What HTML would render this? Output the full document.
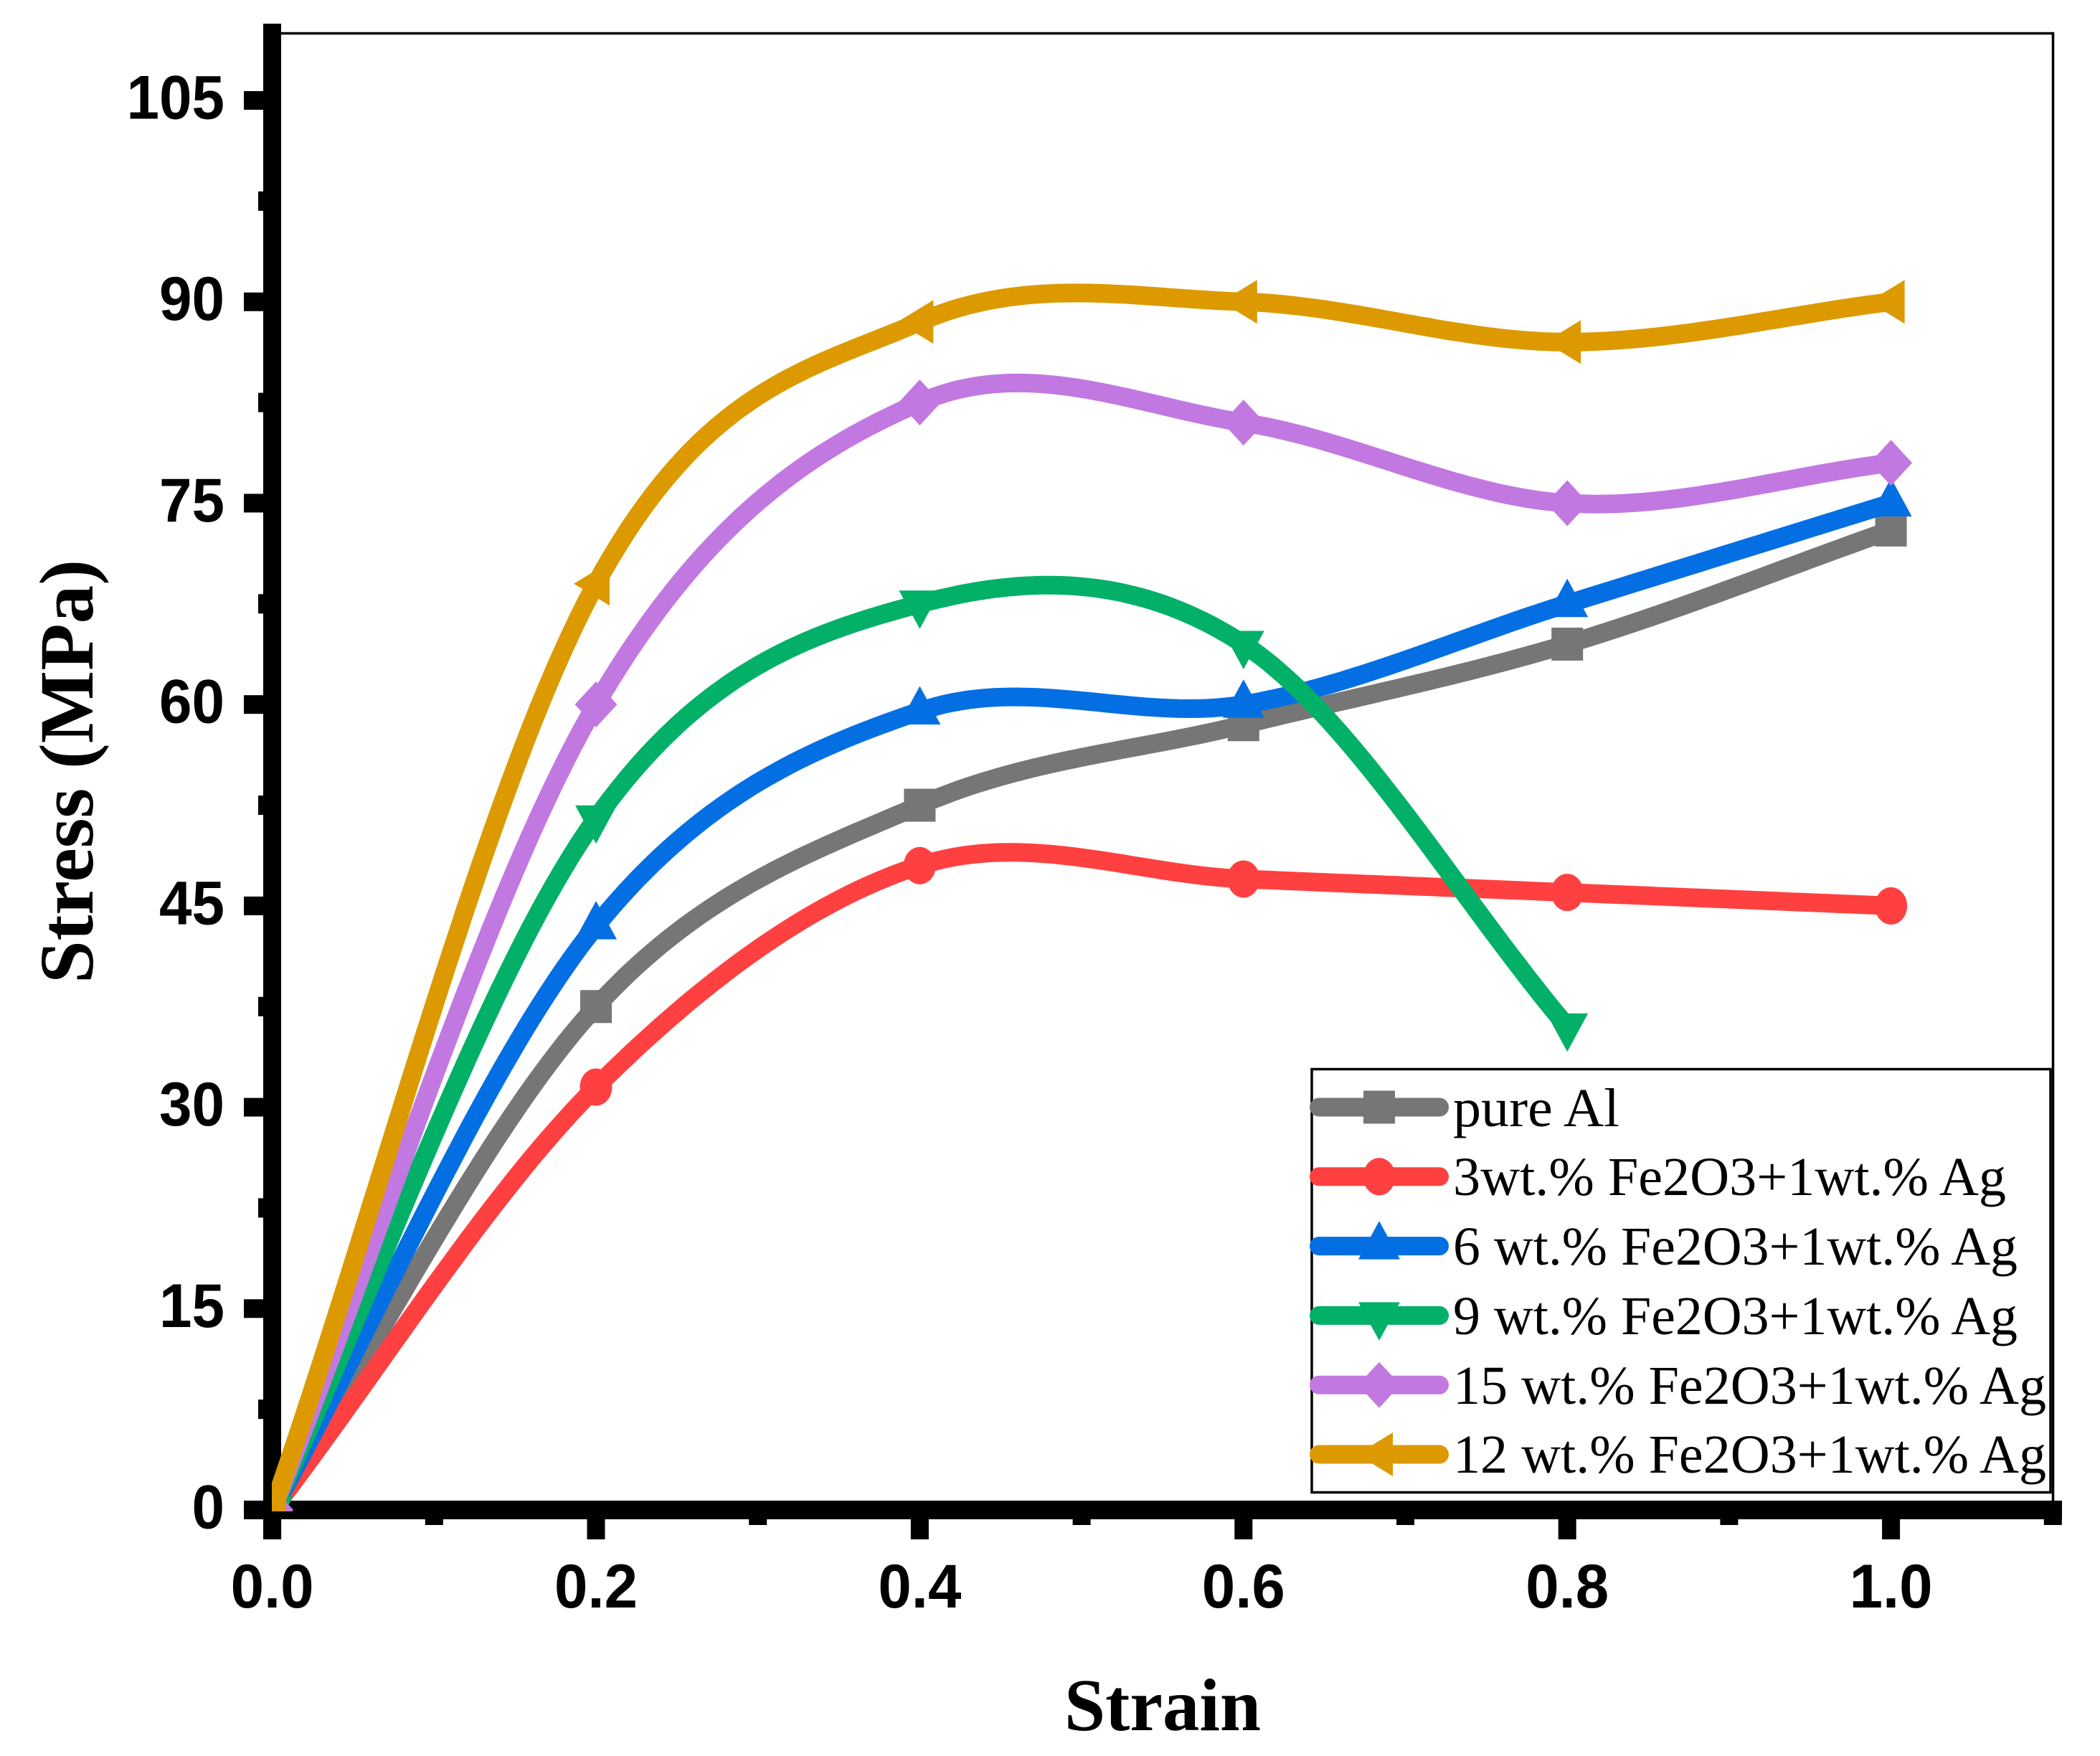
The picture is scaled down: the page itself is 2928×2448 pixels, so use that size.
<!DOCTYPE html>
<html lang="en">
<head>
<meta charset="utf-8">
<title>Stress vs Strain</title>
<style>
html,body{margin:0;padding:0;background:#fff;}
svg{display:block;}
</style>
</head>
<body>
<svg id="chart" xmlns="http://www.w3.org/2000/svg" width="2928" height="2448" viewBox="0 0 2928 2448">
  <defs>
    <clipPath id="plot-clip"><rect x="379" y="0" width="2500" height="2107"></rect></clipPath>
  </defs>
  <rect x="0" y="0" width="2928" height="2448" fill="#fff"></rect>
  <path d="M392 46.5H2862.5V2092" fill="none" stroke="#000" stroke-width="3.5"></path>
  <g id="axes"></g>
  <g id="series" clip-path="url(#plot-clip)"></g>
  <text x="1484" y="2412" font-family="'Liberation Serif',serif" font-weight="bold" font-size="104" textLength="274" lengthAdjust="spacingAndGlyphs">Strain</text>
  <text transform="translate(129,1371) rotate(-90)" x="0" y="0" font-family="'Liberation Serif',serif" font-weight="bold" font-size="107" textLength="591" lengthAdjust="spacingAndGlyphs">Stress (MPa)</text>
  <g id="legend">
    <rect x="1829" y="1490.5" width="1030" height="590" fill="#fff" stroke="#000" stroke-width="3.5"></rect>
    <text x="2026" y="1570" font-family="'Liberation Serif',serif" font-size="76" textLength="232" lengthAdjust="spacingAndGlyphs">pure Al</text>
    <text x="2026" y="1666" font-family="'Liberation Serif',serif" font-size="76" textLength="771" lengthAdjust="spacingAndGlyphs">3wt.% Fe2O3+1wt.% Ag</text>
    <text x="2026" y="1763" font-family="'Liberation Serif',serif" font-size="76" textLength="787" lengthAdjust="spacingAndGlyphs">6 wt.% Fe2O3+1wt.% Ag</text>
    <text x="2026" y="1860" font-family="'Liberation Serif',serif" font-size="76" textLength="787" lengthAdjust="spacingAndGlyphs">9 wt.% Fe2O3+1wt.% Ag</text>
    <text x="2026" y="1957" font-family="'Liberation Serif',serif" font-size="76" textLength="827" lengthAdjust="spacingAndGlyphs">15 wt.% Fe2O3+1wt.% Ag</text>
    <text x="2026" y="2053" font-family="'Liberation Serif',serif" font-size="76" textLength="827" lengthAdjust="spacingAndGlyphs">12 wt.% Fe2O3+1wt.% Ag</text>
  </g>
</svg>
<script>
var strainValues = [0, 0.2, 0.4, 0.6, 0.8, 1.0];
var pureAl = [0, 37.5, 52.5, 58.5, 64.5, 73];
var fe3 = [0, 31.5, 48, 47, 46, 45];
var fe6 = [0, 43.5, 59.5, 60, 67.5, 75];
var fe9 = [0, 51.5, 67.5, 64.5, 36];
var fe15 = [0, 60, 82.5, 81, 75, 78];
var fe12 = [0, 69, 88.5, 90, 87, 90];
var xTickLabels = ['0.0', '0.2', '0.4', '0.6', '0.8', '1.0'];
var yTickLabels = ['0', '15', '30', '45', '60', '75', '90', '105'];
var xMinorTicks = [0.1, 0.3, 0.5, 0.7, 0.9, 1.1];
var yMinorTicks = [7.5, 22.5, 37.5, 52.5, 67.5, 82.5, 97.5];

var NS = 'http://www.w3.org/2000/svg';
function xScale(v) { return 379.6 + 2257 * v; }
function yScale(v) { return 2105 - 18.714 * v; }

function make(tag, attrs, parent) {
  var el = document.createElementNS(NS, tag);
  for (var k in attrs) { el.setAttribute(k, attrs[k]); }
  parent.appendChild(el);
  return el;
}

var axes = document.getElementById('axes');
var seriesGroup = document.getElementById('series');
var legend = document.getElementById('legend');

var yAxisLine = make('rect', {x: 367, y: 33, width: 25, height: 2113, fill: '#000'}, axes);


var xAxisLine = make('rect', {x: 340, y: 2092, width: 2535, height: 26, fill: '#000'}, axes);



xTickLabels.forEach(function (label) {
  var px = xScale(parseFloat(label));
  var tick = make('rect', {x: px - 12.5, y: 2105, width: 25, height: 41, fill: '#000'}, axes);
  
  
  var t = make('text', {x: px, y: 2241, 'text-anchor': 'middle', 'font-family': "'Liberation Sans',sans-serif", 'font-weight': 'bold', 'font-size': 86, textLength: 116, lengthAdjust: 'spacingAndGlyphs'}, axes);
  t.textContent = label;
  
  
});
xMinorTicks.forEach(function (v) {
  var tick = make('rect', {x: xScale(v) - 12.5, y: 2105, width: 25, height: 21, fill: '#000'}, axes);
  
  
});
yTickLabels.forEach(function (label) {
  var py = yScale(parseFloat(label));
  var tick = make('rect', {x: 340, y: py - 13, width: 40, height: 26, fill: '#000'}, axes);
  
  
  var t = make('text', {x: 313, y: py + 25.5, 'text-anchor': 'end', 'font-family': "'Liberation Sans',sans-serif", 'font-weight': 'bold', 'font-size': 86, textLength: 45.5 * label.length, lengthAdjust: 'spacingAndGlyphs'}, axes);
  t.textContent = label;
  
  
});
yMinorTicks.forEach(function (v) {
  var tick = make('rect', {x: 360, y: yScale(v) - 13.5, width: 20, height: 27, fill: '#000'}, axes);
  
  
});

// Cardinal (Catmull-Rom) spline through the data points: central-difference
// tangents inside, one-sided tangents at the ends.
function splinePath(xs, ys) {
  var n = xs.length, m = [], i;
  for (i = 0; i < n; i++) {
    var lo = Math.max(i - 1, 0), hi = Math.min(i + 1, n - 1);
    m[i] = (ys[hi] - ys[lo]) / (xs[hi] - xs[lo]);
  }
  var out = 'M' + xScale(xs[0]).toFixed(1) + ' ' + yScale(ys[0]).toFixed(1);
  for (i = 0; i < n - 1; i++) {
    var h = xs[i + 1] - xs[i];
    for (var s = 1; s <= 40; s++) {
      var t = s / 40, t2 = t * t, t3 = t2 * t;
      var val = (2 * t3 - 3 * t2 + 1) * ys[i] + (t3 - 2 * t2 + t) * h * m[i] +
                (3 * t2 - 2 * t3) * ys[i + 1] + (t3 - t2) * h * m[i + 1];
      out += 'L' + xScale(xs[i] + t * h).toFixed(1) + ' ' + yScale(val).toFixed(1);
    }
  }
  return out;
}

function markerShape(kind, cx, cy, color, parent) {
  var el;
  if (kind === 'square') {
    el = make('rect', {x: cx - 22, y: cy - 23, width: 44, height: 46, fill: color}, parent);
  } else if (kind === 'circle') {
    el = make('ellipse', {cx: cx, cy: cy, rx: 22.5, ry: 26, fill: color}, parent);
  } else {
    var pts;
    if (kind === 'up') { pts = [[0, -35], [29, 18.5], [-29, 18.5]]; }
    if (kind === 'down') { pts = [[0, 35], [29, -18.5], [-29, -18.5]]; }
    if (kind === 'diamond') { pts = [[0, -32], [29.5, 0], [0, 32], [-29.5, 0]]; }
    if (kind === 'left') { pts = [[-31, 0], [19, -30.5], [19, 30.5]]; }
    var str = pts.map(function (p) { return (cx + p[0]) + ',' + (cy + p[1]); }).join(' ');
    el = make('polygon', {points: str, fill: color}, parent);
  }
  return el;
}

var seriesList = [
  {name: 'pure-al', values: pureAl, color: '#767676', marker: 'square'},
  {name: '3wt', values: fe3, color: '#FF4040', marker: 'circle'},
  {name: '6wt', values: fe6, color: '#046FE3', marker: 'up'},
  {name: '9wt', values: fe9, color: '#02B068', marker: 'down'},
  {name: '15wt', values: fe15, color: '#C278E1', marker: 'diamond'},
  {name: '12wt', values: fe12, color: '#DC9A00', marker: 'left'}
];

seriesList.forEach(function (s, idx) {
  var xs = strainValues.slice(0, s.values.length);
  var g = make('g', {}, seriesGroup);
  
  
  var line = make('path', {d: splinePath(xs, s.values), fill: 'none', stroke: s.color, 'stroke-width': 26, 'stroke-linejoin': 'round'}, g);
  
  
  s.values.forEach(function (v, i) {
    var m = markerShape(s.marker, xScale(xs[i]), yScale(v), s.color, g);
    
    
  });
  var ly = 1543.5 + idx * 96.8;
  var keyLine = make('line', {x1: 1839, x2: 2007, y1: ly, y2: ly, stroke: s.color, 'stroke-width': 26, 'stroke-linecap': 'round'}, legend);
  
  
  var keyMark = markerShape(s.marker, 1923, ly, s.color, legend);
  
  
});
</script>
</body>
</html>
